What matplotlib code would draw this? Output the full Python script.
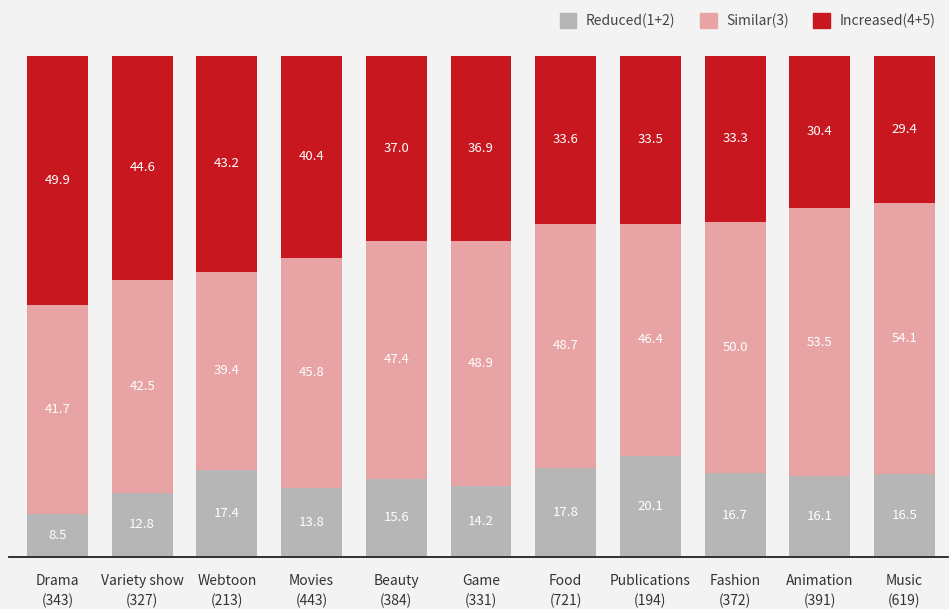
import matplotlib
matplotlib.use("Agg")
import matplotlib.pyplot as plt
import numpy as np

plt.rcParams['font.family'] = ['Noto Sans CJK KR', 'DejaVu Sans']

categories = ["Drama", "Variety show", "Webtoon", "Movies", "Beauty", "Game",
              "Food", "Publications", "Fashion", "Animation", "Music"]
counts = [343, 327, 213, 443, 384, 331, 721, 194, 372, 391, 619]
reduced = [8.5, 12.8, 17.4, 13.8, 15.6, 14.2, 17.8, 20.1, 16.7, 16.1, 16.5]
similar = [41.7, 42.5, 39.4, 45.8, 47.4, 48.9, 48.7, 46.4, 50.0, 53.5, 54.1]
increased = [49.9, 44.6, 43.2, 40.4, 37.0, 36.9, 33.6, 33.5, 33.3, 30.4, 29.4]
series_names = ["Reduced(1+2)", "Similar(3)", "Increased(4+5)"]
colors = ["#b5b6b5", "#e8a3a5", "#c8171e"]

W, H = 949, 609
fig = plt.figure(figsize=(W / 100, H / 100), dpi=100)
fig.patch.set_facecolor("#f3f3f3")
left_px, right_px, top_px, bottom_px = 9, 948, 55.5, 557
ax = fig.add_axes([left_px / W, (H - bottom_px) / H,
                   (right_px - left_px) / W, (bottom_px - top_px) / H])
ax.set_facecolor("#f3f3f3")

x = np.arange(len(categories))
spacing = 84.7
c0 = 57.5
ax.set_xlim((left_px - c0) / spacing, (right_px - c0) / spacing)
ax.set_ylim(0, 100)

bottom = np.zeros(len(categories))
for vals, col, name in zip([reduced, similar, increased], colors, series_names):
    vals = np.array(vals)
    ax.bar(x, vals, bottom=bottom, width=0.72, color=col, label=name, linewidth=0)
    for xi, b, v in zip(x, bottom, vals):
        ax.text(xi, b + v / 2, f"{v:.1f}", ha="center", va="center",
                color="white", fontsize=9.5)
    bottom += vals

for s in ["top", "right", "left"]:
    ax.spines[s].set_visible(False)
ax.spines["bottom"].set_color("#222222")
ax.spines["bottom"].set_linewidth(1.3)
ax.set_yticks([])
ax.set_xticks(x)
ax.set_xticklabels([f"{c}\n({n})" for c, n in zip(categories, counts)],
                   fontsize=10, color="#333333", linespacing=1.55)
ax.tick_params(axis="x", length=0, pad=12)

handles = [plt.Rectangle((0, 0), 1, 1, color=c) for c in colors]
leg = fig.legend(handles, series_names, loc="upper right",
                 bbox_to_anchor=(948 / W, 1 - 0 / H), ncol=3, frameon=False,
                 fontsize=10, handlelength=1.2, handleheight=1.3,
                 columnspacing=1.75, handletextpad=0.7)
for t in leg.get_texts():
    t.set_color("#444444")

fig.savefig("out.png", dpi=100, facecolor=fig.get_facecolor())
